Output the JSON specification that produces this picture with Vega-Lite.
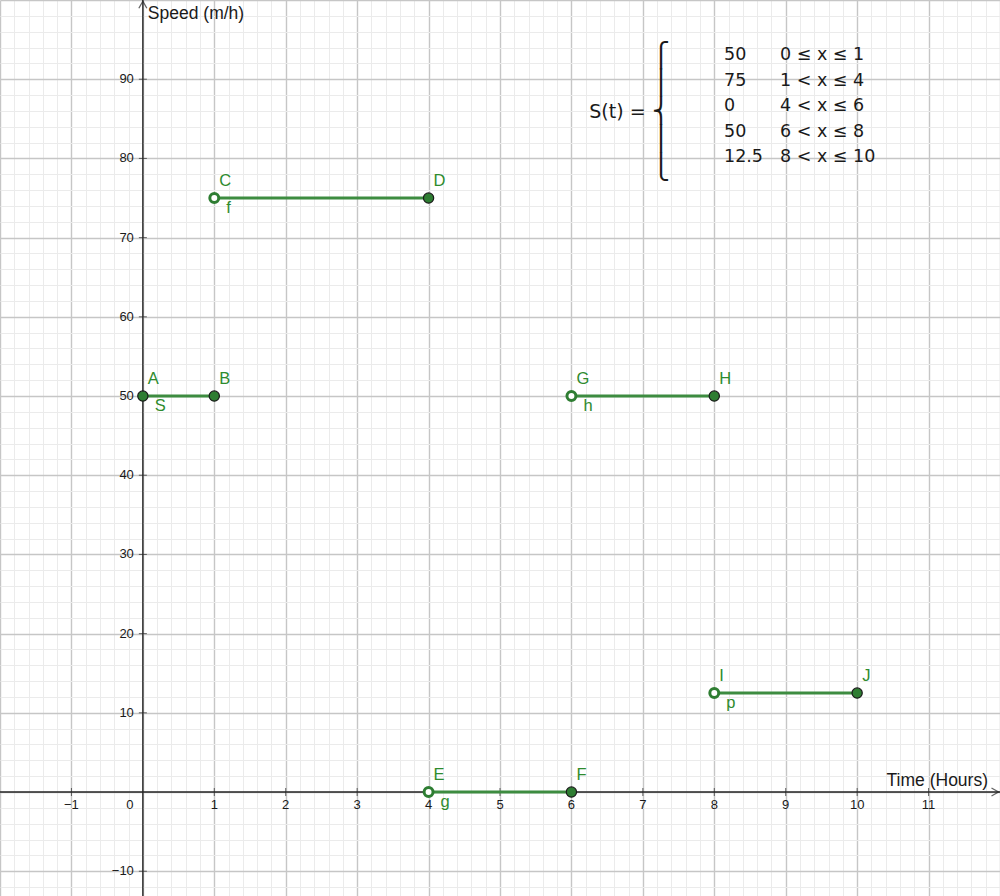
{
  "$schema": "https://vega.github.io/schema/vega-lite/v6.json",
  "width": 1000,
  "height": 896,
  "padding": 0,
  "autosize": {"type": "none"},
  "background": "white",
  "config": {"view": {"stroke": null}},
  "encoding": {
    "x": {
      "field": "x", "type": "quantitative",
      "scale": {"domain": [-2, 12], "nice": false, "zero": false},
      "axis": {
        "orient": "bottom", "title": null, "labels": false, "ticks": false, "domain": false,
        "grid": true, "minExtent": 0, "maxExtent": 0,
        "values": [-2,-1.8,-1.6,-1.4,-1.2,-1,-0.8,-0.6,-0.4,-0.2,0,0.2,0.4,0.6,0.8,1,1.2,1.4,1.6,1.8,2,2.2,2.4,2.6,2.8,3,3.2,3.4,3.6,3.8,4,4.2,4.4,4.6,4.8,5,5.2,5.4,5.6,5.8,6,6.2,6.4,6.6,6.8,7,7.2,7.4,7.6,7.8,8,8.2,8.4,8.6,8.8,9,9.2,9.4,9.6,9.8,10,10.2,10.4,10.6,10.8,11,11.2,11.4,11.6,11.8,12],
        "gridColor": {"condition": {"test": "abs(datum.value - round(datum.value)) < 0.01", "value": "#c6c6c6"}, "value": "#ebebeb"},
        "gridWidth": {"condition": {"test": "abs(datum.value - round(datum.value)) < 0.01", "value": 1.4}, "value": 1}
      }
    },
    "y": {
      "field": "y", "type": "quantitative",
      "scale": {"domain": [-13.13, 100], "nice": false, "zero": false},
      "axis": {
        "orient": "left", "title": null, "labels": false, "ticks": false, "domain": false,
        "grid": true, "minExtent": 0, "maxExtent": 0,
        "values": [-12,-10,-8,-6,-4,-2,0,2,4,6,8,10,12,14,16,18,20,22,24,26,28,30,32,34,36,38,40,42,44,46,48,50,52,54,56,58,60,62,64,66,68,70,72,74,76,78,80,82,84,86,88,90,92,94,96,98,100],
        "gridColor": {"condition": {"test": "datum.value % 10 === 0", "value": "#c6c6c6"}, "value": "#ebebeb"},
        "gridWidth": {"condition": {"test": "datum.value % 10 === 0", "value": 1.4}, "value": 1}
      }
    }
  },
  "layer": [
    {
      "data": {"values": [{"x": 0, "y": -14, "y2": 100}]},
      "mark": {"type": "rule", "color": "#252525", "strokeWidth": 1.4},
      "encoding": {"y2": {"field": "y2"}}
    },
    {
      "data": {"values": [{"x": -2, "x2": 12, "y": 0}]},
      "mark": {"type": "rule", "color": "#252525", "strokeWidth": 1.4},
      "encoding": {"x2": {"field": "x2"}}
    },
    {
      "data": {"values": [{"x": 0, "y": 99.4}]},
      "mark": {"type": "point", "shape": "M -0.8 0.7 L 0 -0.7 L 0.8 0.7", "size": 100, "filled": false, "stroke": "#252525", "strokeWidth": 1.3}
    },
    {
      "data": {"values": [{"x": 11.93, "y": 0}]},
      "mark": {"type": "point", "shape": "M -0.7 -0.8 L 0.7 0 L -0.7 0.8", "size": 100, "filled": false, "stroke": "#252525", "strokeWidth": 1.3}
    },
    {
      "data": {"values": [
        {"x": -1, "y": 0, "t": "−1"}, {"x": 1, "y": 0, "t": "1"}, {"x": 2, "y": 0, "t": "2"}, {"x": 3, "y": 0, "t": "3"},
        {"x": 4, "y": 0, "t": "4"}, {"x": 5, "y": 0, "t": "5"}, {"x": 6, "y": 0, "t": "6"}, {"x": 7, "y": 0, "t": "7"},
        {"x": 8, "y": 0, "t": "8"}, {"x": 9, "y": 0, "t": "9"}, {"x": 10, "y": 0, "t": "10"}, {"x": 11, "y": 0, "t": "11"}
      ]},
      "layer": [
        {"mark": {"type": "tick", "orient": "vertical", "size": 8, "thickness": 1, "color": "#252525"}},
        {"mark": {"type": "text", "font": "Liberation Sans", "fontSize": 13, "color": "#1a1a1a", "dy": 13, "baseline": "middle", "align": "center"},
         "encoding": {"text": {"field": "t"}}}
      ]
    },
    {
      "data": {"values": [
        {"x": 0, "y": 90, "t": "90"}, {"x": 0, "y": 80, "t": "80"}, {"x": 0, "y": 70, "t": "70"}, {"x": 0, "y": 60, "t": "60"},
        {"x": 0, "y": 50, "t": "50"}, {"x": 0, "y": 40, "t": "40"}, {"x": 0, "y": 30, "t": "30"}, {"x": 0, "y": 20, "t": "20"},
        {"x": 0, "y": 10, "t": "10"}, {"x": 0, "y": -10, "t": "−10"}
      ]},
      "layer": [
        {"mark": {"type": "tick", "orient": "horizontal", "size": 8, "thickness": 1, "color": "#252525"}},
        {"mark": {"type": "text", "font": "Liberation Sans", "fontSize": 13, "color": "#1a1a1a", "dx": -9, "baseline": "middle", "align": "right"},
         "encoding": {"text": {"field": "t"}}}
      ]
    },
    {
      "data": {"values": [{"x": 0, "y": 0, "t": "0"}]},
      "mark": {"type": "text", "font": "Liberation Sans", "fontSize": 13, "color": "#1a1a1a", "dx": -13, "dy": 13, "baseline": "middle", "align": "center"},
      "encoding": {"text": {"field": "t"}}
    },
    {
      "data": {"values": [{"x": 0, "y": 100, "t": "Speed (m/h)"}]},
      "mark": {"type": "text", "font": "Liberation Sans", "fontSize": 17.5, "color": "#1a1a1a", "dx": 5, "dy": 14, "baseline": "middle", "align": "left"},
      "encoding": {"text": {"field": "t"}}
    },
    {
      "data": {"values": [{"x": 11.832, "y": 0, "t": "Time (Hours)"}]},
      "mark": {"type": "text", "font": "Liberation Sans", "fontSize": 17.5, "color": "#1a1a1a", "dy": -11, "baseline": "middle", "align": "right"},
      "encoding": {"text": {"field": "t"}}
    },
    {
      "data": {"values": [
        {"seg": "S", "x": 0, "x2": 1, "y": 50},
        {"seg": "f", "x": 1, "x2": 4, "y": 75},
        {"seg": "g", "x": 4, "x2": 6, "y": 0},
        {"seg": "h", "x": 6, "x2": 8, "y": 50},
        {"seg": "p", "x": 8, "x2": 10, "y": 12.5}
      ]},
      "layer": [
        {"mark": {"type": "rule", "color": "#3d8c40", "strokeWidth": 3},
         "encoding": {"x2": {"field": "x2"}}},
        {"mark": {"type": "text", "font": "Liberation Sans", "fontSize": 16.5, "color": "#2e8b2e", "dx": 12, "dy": 10, "baseline": "middle", "align": "left"},
         "encoding": {"text": {"field": "seg"}}}
      ]
    },
    {
      "data": {"values": [
        {"name": "A", "x": 0, "y": 50, "open": false},
        {"name": "B", "x": 1, "y": 50, "open": false},
        {"name": "C", "x": 1, "y": 75, "open": true},
        {"name": "D", "x": 4, "y": 75, "open": false},
        {"name": "E", "x": 4, "y": 0, "open": true},
        {"name": "F", "x": 6, "y": 0, "open": false},
        {"name": "G", "x": 6, "y": 50, "open": true},
        {"name": "H", "x": 8, "y": 50, "open": false},
        {"name": "I", "x": 8, "y": 12.5, "open": true},
        {"name": "J", "x": 10, "y": 12.5, "open": false}
      ]},
      "layer": [
        {"mark": {"type": "point", "shape": "circle", "opacity": 1},
         "encoding": {
           "fill": {"condition": {"test": "datum.open", "value": "white"}, "value": "#2e7d32"},
           "stroke": {"condition": {"test": "datum.open", "value": "#2e7d32"}, "value": "#1a1a1a"},
           "strokeWidth": {"condition": {"test": "datum.open", "value": 3}, "value": 1.2},
           "size": {"condition": {"test": "datum.open", "value": 80}, "value": 105}
         }},
        {"mark": {"type": "text", "font": "Liberation Sans", "fontSize": 16.5, "color": "#2e8b2e", "dx": 5, "dy": -17, "baseline": "middle", "align": "left"},
         "encoding": {"text": {"field": "name"}}}
      ]
    },
    {
      "data": {"values": [{"x": 6.25, "y": 85.86, "t": "S(t) ="}]},
      "mark": {"type": "text", "font": "DejaVu Sans", "fontSize": 19, "color": "#1a1a1a", "baseline": "middle", "align": "left"},
      "encoding": {"text": {"field": "t"}}
    },
    {
      "data": {"values": [{"x": 7.254, "y": 92.93}]},
      "mark": {"type": "text", "font": "DejaVu Sans", "fontSize": 24, "lineHeight": 28, "color": "#1a1a1a", "baseline": "middle", "align": "center",
               "text": ["⎧", "⎪", "⎨", "⎪", "⎩"]}
    },
    {
      "data": {"values": [
        {"x": 8.136, "y": 93.06, "val": "50", "cond": "0 ≤ x ≤ 1"},
        {"x": 8.136, "y": 89.77, "val": "75", "cond": "1 < x ≤ 4"},
        {"x": 8.136, "y": 86.62, "val": "0", "cond": "4 < x ≤ 6"},
        {"x": 8.136, "y": 83.33, "val": "50", "cond": "6 < x ≤ 8"},
        {"x": 8.136, "y": 80.18, "val": "12.5", "cond": "8 < x ≤ 10"}
      ]},
      "layer": [
        {"mark": {"type": "text", "font": "DejaVu Sans", "fontSize": 17.5, "color": "#1a1a1a", "baseline": "middle", "align": "left"},
         "encoding": {"text": {"field": "val"}}},
        {"mark": {"type": "text", "font": "DejaVu Sans", "fontSize": 17.5, "color": "#1a1a1a", "dx": 56, "baseline": "middle", "align": "left"},
         "encoding": {"text": {"field": "cond"}}}
      ]
    }
  ]
}
